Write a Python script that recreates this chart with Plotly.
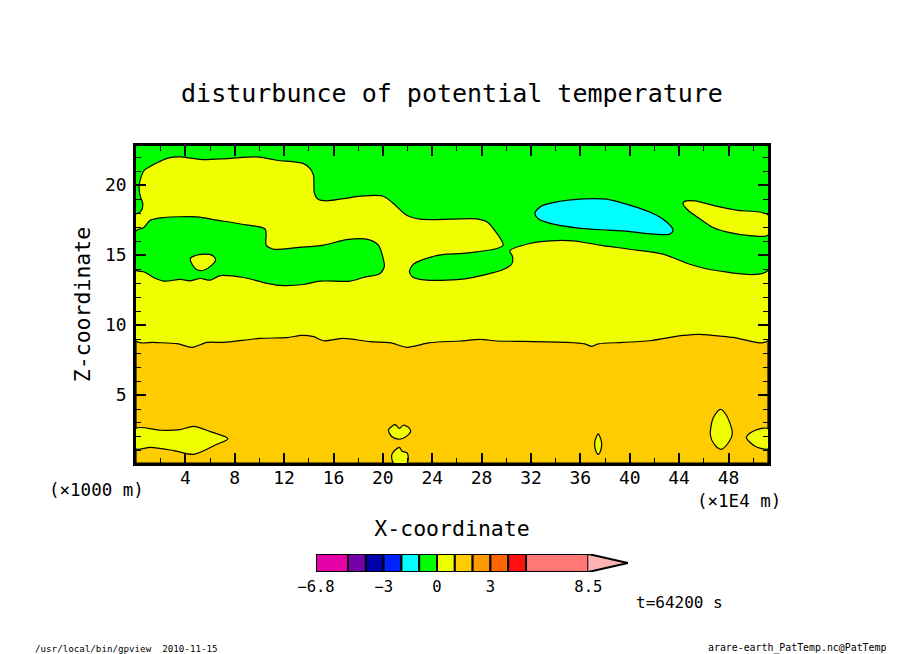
import plotly.graph_objects as go

# contour lines, x in 1E4 m, z in 1000 m
top_line_x = [0, .41, .55, .36, .25, .41, .68, 1.17, 1.84, 2.65, 3.59, 5.35, 7.37, 9.80, 11.41, 13.57, 14.11, 14.38,
              14.46, 14.78, 15.46, 16.81, 18.43, 20.04, 20.85, 21.93, 23.01, 25.57, 27.6, 28.41, 28.95, 29.75,
              29.22, 27.6, 26.25, 25.17, 23.95, 22.47, 22.15, 22.47, 23.55, 26.25, 26.65, 28.14, 29.75, 30.43,
              30.51, 30.29, 31.91, 33.53, 35.42, 37.58, 40.0, 42.7, 44.86, 47.01, 51.2]
top_line_z = [17.97, 18.16, 18.69, 19.16, 19.88, 20.59, 21.07, 21.35, 21.66, 21.95, 22.02, 21.83, 21.9, 22.02, 21.78,
              21.54, 21.19, 20.71, 19.4, 18.97, 18.88, 19.04, 19.23, 19.21, 18.69, 17.85, 17.57, 17.57, 17.59,
              17.38, 16.9, 15.71, 15.47, 15.23, 15.11, 15.07, 14.88, 14.35, 13.81, 13.4, 13.21, 13.26, 13.3,
              13.57, 13.97, 14.35, 14.88, 15.31, 15.83, 16.02, 16.02, 15.71, 15.42, 15.07, 14.35, 13.9, 13.9]

mid_green_x = [0, .63, 1.17, 2.24, 4.94, 6.56, 8.72, 10.47, 10.55, 11.14, 13.03, 15.19, 17.08, 18.83, 19.64, 19.99,
               20.12, 19.77, 18.43, 17.35, 14.92, 13.57, 11.68, 10.33, 8.72, 6.83, 6.02, 5.21, 4.40, 3.59, 2.24,
               1.43, .63, 0]
mid_green_z = [16.73, 16.97, 17.5, 17.69, 17.73, 17.5, 17.19, 16.85, 15.71, 15.42, 15.54, 15.71, 16.11, 16.11, 15.71,
               14.88, 14.21, 13.69, 13.4, 13.14, 13.14, 12.9, 12.83, 13.04, 13.4, 13.54, 13.21, 13.33, 13.16, 13.26,
               13.14, 13.4, 13.81, 13.93]

hole_x = [5.08, 6.15, 6.45, 6.15, 5.48, 4.89, 4.54, 4.40]
hole_z = [15.04, 15.0, 14.69, 14.28, 13.92, 13.97, 14.35, 14.76]

right_patch_x = [51.2, 49.71, 47.82, 46.75, 45.53, 44.72, 44.32, 44.37, 45.26, 47.01, 48.63, 51.2]
right_patch_z = [16.42, 16.4, 16.66, 16.97, 17.69, 18.21, 18.64, 18.8, 18.88, 18.5, 18.21, 17.88]

cyan_x = [36.23, 38.12, 40.0, 41.89, 42.97, 43.51, 43.24, 41.89, 39.46, 37.31, 35.69, 33.8, 32.59, 32.32, 32.86, 34.34]
cyan_z = [19.02, 19.0, 18.57, 17.97, 17.38, 16.78, 16.5, 16.5, 16.73, 16.83, 16.95, 17.21, 17.6, 18.02, 18.52, 18.85]

low_line_x = [0, 1.43, 3.32, 4.54, 5.75, 7.10, 10.06, 12.22, 13.43, 14.38, 15.19, 16.81, 18.96, 20.58, 21.93, 23.82,
              26.25, 27.87, 29.22, 30.83, 34.88, 36.36, 36.9, 37.44, 39.46, 41.62, 44.32, 45.67, 48.36, 51.2]
low_line_z = [8.86, 8.76, 8.67, 8.41, 8.76, 8.76, 9.05, 9.1, 9.26, 9.17, 8.88, 9.05, 8.81, 8.74, 8.41, 8.74,
              8.86, 8.98, 8.86, 8.84, 8.76, 8.65, 8.48, 8.65, 8.76, 8.88, 9.26, 9.34, 9.12, 8.88]

left_patch_x = [0, 1.97, 3.59, 4.67, 6.02, 7.45, 6.56, 4.67, 3.05, 1.17, 0]
left_patch_z = [2.62, 2.48, 2.53, 2.76, 2.38, 1.88, 1.48, .76, 1.03, 1.26, 1.15]

island_a_x = [21.34, 21.66, 22.15, 22.25, 21.8, 21.26, 20.72, 20.45, 20.99]
island_a_z = [2.62, 2.84, 2.62, 2.38, 1.98, 1.84, 2.03, 2.5, 2.88]
island_b_x = [20.85, 20.72, 20.99, 21.34, 21.53, 21.98, 21.98]
island_b_z = [.14, .72, 1.07, 1.26, 1.0, .84, .14]
island_c_x = [37.44, 37.71, 37.66, 37.44, 37.23, 37.17]
island_c_z = [2.22, 1.67, 1.07, .76, 1.07, 1.67]
island_d_x = [47.34, 47.82, 48.31, 47.96, 47.42, 46.88, 46.53, 46.75]
island_d_z = [3.98, 3.57, 2.26, 1.55, 1.12, 1.43, 2.14, 3.34]
edge_patch_x = [51.2, 50.12, 49.44, 50.12, 51.2]
edge_patch_z = [2.6, 2.46, 1.98, 1.36, 1.15]

x_min, x_max = 0, 51.2
z_min, z_max = .14, 22.8

x_ticks = [4, 8, 12, 16, 20, 24, 28, 32, 36, 40, 44, 48]
z_ticks = [5, 10, 15, 20]

# colour bar
bar_bounds = [-6.8, -5, -4, -3, -2, -1, 0, 1, 2, 3, 4, 5, 8.5]
bar_colors = ['#E600A8', '#7700AA', '#0000AA', '#0022FF', '#00FFFF', '#00FF00', '#F0FF00', '#FFCC00', '#FF9900',
              '#FF6600', '#FF1111', '#FF7777']
bar_ticks = [-6.8, -3, 0, 3, 8.5]
arrow_tip = 10.73
arrow_color = '#FFB4B4'

GREEN = '#00FF00'
YELLOW = '#F0FF00'
GOLD = '#FFCC00'
CYAN = '#00FFFF'
FONT = 'DejaVu Sans Mono'
W, H = 904, 654


def px(v):
    return v / W


def py(v):
    return 1 - v / H


def region(xs, zs, color, shape='spline'):
    # repeat the first point so the outline closes too, not only the fill
    return go.Scatter(x=xs + xs[:1], y=zs + zs[:1], mode='lines', fill='toself', fillcolor=color,
                      line=dict(color='black', width=1.2, shape=shape, smoothing=.8),
                      showlegend=False, hoverinfo='skip')


def label(text, x, y, size, anchor='center'):
    fig.add_annotation(text=text, x=px(x), y=py(y), xref='paper', yref='paper', showarrow=False,
                       xanchor=anchor, yanchor='middle', font=dict(family=FONT, size=size, color='black'))


fig = go.Figure()

fig.add_trace(region([x_min, x_max, x_max, x_min], [z_min, z_min, z_max, z_max], GOLD, 'linear'))
fig.add_trace(region([x_min] + low_line_x + [x_max], [z_max] + low_line_z + [z_max], YELLOW))
fig.add_trace(region(left_patch_x, left_patch_z, YELLOW))
fig.add_trace(region(island_a_x, island_a_z, YELLOW))
fig.add_trace(region(island_b_x, island_b_z, YELLOW))
fig.add_trace(region(island_c_x, island_c_z, YELLOW))
fig.add_trace(region(island_d_x, island_d_z, YELLOW))
fig.add_trace(region(edge_patch_x, edge_patch_z, YELLOW))
fig.add_trace(region([x_min] + top_line_x + [x_max], [z_max] + top_line_z + [z_max], GREEN))
fig.add_trace(region(mid_green_x, mid_green_z, GREEN))
fig.add_trace(region(hole_x, hole_z, YELLOW))
fig.add_trace(region(right_patch_x, right_patch_z, YELLOW))
fig.add_trace(region(cyan_x, cyan_z, CYAN))

widths = [bar_bounds[i + 1] - bar_bounds[i] for i in range(len(bar_colors))]
fig.add_trace(go.Bar(x=widths, y=[.5] * len(widths), base=bar_bounds[:-1], orientation='h', width=1,
                     marker=dict(color=bar_colors, line=dict(color='black', width=2)),
                     xaxis='x2', yaxis='y2', showlegend=False, hoverinfo='skip', cliponaxis=False))
fig.add_trace(go.Scatter(x=[bar_bounds[-1], arrow_tip, bar_bounds[-1]], y=[1, .5, 0], mode='lines', fill='toself',
                         fillcolor=arrow_color, line=dict(color='black', width=2), xaxis='x2', yaxis='y2',
                         showlegend=False, hoverinfo='skip', cliponaxis=False))

axis_style = dict(showline=True, linecolor='black', linewidth=2.5, mirror='ticks', showgrid=False, zeroline=False,
                  ticks='inside', ticklen=10, tickwidth=2, tickcolor='black', automargin=False,
                  tickfont=dict(family=FONT, size=18, color='black'))

fig.update_layout(
    width=W, height=H, autosize=False,
    margin=dict(l=0, r=0, t=0, b=0),
    paper_bgcolor='white', plot_bgcolor='white',
    barmode='overlay',
    title=dict(text='disturbunce of potential temperature', x=.5, xanchor='center', y=py(93), yanchor='middle',
               font=dict(family=FONT, size=25, color='black')),
    xaxis=dict(domain=[px(136), px(768)], range=[x_min, x_max], tickvals=x_ticks, ticklabelstandoff=-3,
               minor=dict(dtick=2, tick0=0, ticks='inside', ticklen=5, tickwidth=1, tickcolor='black', showgrid=False),
               title=dict(text='X-coordinate', standoff=34, font=dict(family=FONT, size=21.5, color='black')),
               **axis_style),
    yaxis=dict(domain=[py(463), py(146)], range=[z_min, z_max], tickvals=z_ticks, ticklabelstandoff=3,
               minor=dict(dtick=1, tick0=0, ticks='inside', ticklen=5, tickwidth=1, tickcolor='black', showgrid=False),
               title=dict(text='Z-coordinate', standoff=9, font=dict(family=FONT, size=21.5, color='black')),
               **axis_style),
    xaxis2=dict(domain=[px(316), px(628)], range=[bar_bounds[0], arrow_tip], anchor='y2', tickvals=bar_ticks,
                showgrid=False, zeroline=False, showline=False, ticks='', automargin=False, ticklabelstandoff=3,
                tickfont=dict(family=FONT, size=15.5, color='black')),
    yaxis2=dict(domain=[py(572), py(554)], range=[0, 1], anchor='x2', visible=False, automargin=False),
)

label('(×1000 m)', 96, 490, 17.5)
label('(×1E4 m)', 739, 501, 17.5)
label('t=64200 s', 634, 602, 16, 'left')
label('/usr/local/bin/gpview  2010-11-15', 33, 648, 9.2, 'left')
label('arare-earth_PatTemp.nc@PatTemp', 888, 648, 9.9, 'right')

fig.write_html("out.html", config=dict(displayModeBar=False), post_script="document.body.style.margin='0';")
